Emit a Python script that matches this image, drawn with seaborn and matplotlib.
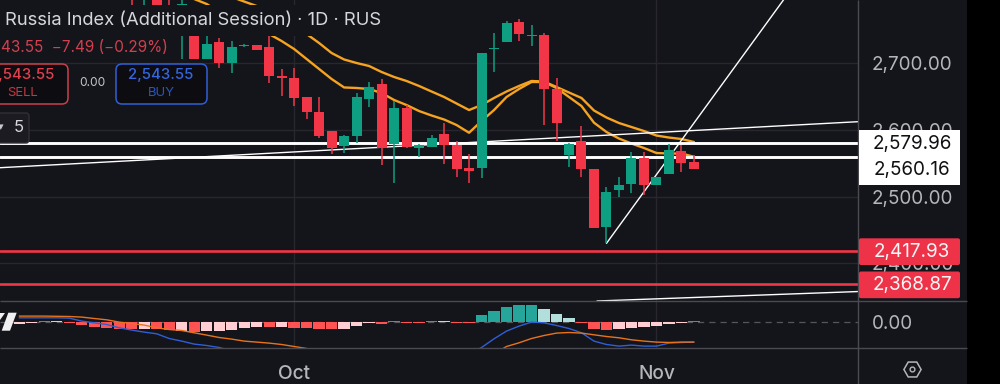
import numpy as np
import pandas as pd
import matplotlib
matplotlib.use("Agg")
import matplotlib.pyplot as plt
from matplotlib.patches import Rectangle, FancyBboxPatch, RegularPolygon, Circle, Polygon
import seaborn as sns

# ---------- data ----------
first_day = -4
opens = [2815,2805,2830,2830,2760,2745,2707.2,2731.8,2700.3,2726.2,2728.2,2724.3,2681.2,2678.2,2649.2,2627.6,2598.2,2576.1,2591.1,2646.2,2668.7,2579.1,2633.1,2572.6,2574.1,2594.1,2578.0,2543.5,2542.6,2721.3,2732.2,2762.7,2741.7,2743.2,2661.7,2562.1,2583.6,2542.0,2454.0,2510.0,2519.5,2558.1,2517.5,2534.0,2568.6,2551.6]
highs = [2825,2820,2840,2840,2795,2745,2741.0,2738.2,2734.2,2728.5,2728.2,2741.2,2691.2,2692.7,2650.1,2649.2,2598.6,2592.6,2655.7,2672.6,2676.7,2643.6,2637.6,2579.1,2592.1,2611.1,2584.0,2564.1,2716.2,2745.7,2764.2,2766.3,2757.3,2745.3,2677.7,2581.0,2606.1,2542.0,2515.0,2530.0,2567.1,2567.6,2530.0,2578.6,2577.6,2562.6]
lows = [2788,2788,2788,2788,2706.7,2707.2,2707.2,2693.2,2685.2,2725.2,2720.2,2671.1,2651.2,2636.1,2617.1,2587.6,2564.1,2566.0,2580.6,2635.1,2547.5,2521.0,2573.1,2560.0,2574.1,2549.0,2530.0,2521.0,2528.5,2687.6,2732.2,2734.2,2726.7,2607.6,2584.0,2545.0,2530.0,2453.4,2430.0,2500.0,2506.0,2502.5,2517.5,2534.0,2537.0,2541.1]
closes = [2805,2815,2788,2810,2790,2707.2,2729.2,2700.3,2724.3,2727.3,2720.2,2681.2,2678.2,2648.6,2627.6,2590.6,2573.5,2591.1,2650.1,2665.1,2572.6,2633.1,2574.1,2577.6,2588.5,2577.6,2541.1,2538.1,2716.2,2722.2,2761.2,2744.2,2742.7,2661.7,2610.2,2579.1,2542.0,2453.4,2507.0,2517.5,2557.6,2517.5,2530.0,2570.5,2550.1,2542.0]

ma_fast_start = 1
ma_fast = [2796.8,2789.3,2777.3,2768.3,2760.8,2751.8,2744.2,2733.7,2721.7,2706.7,2691.7,2676.7,2664.0,2663.2,2661.7,2655.7,2645.2,2637.6,2628.6,2621.9,2615.9,2607.6,2596.0,2613.6,2630.1,2649.7,2661.7,2672.2,2672.2,2663.2,2649.7,2636.1,2611.1,2597.1,2587.3,2579.8,2573.1,2565.6,2564.8,2564.8,2560.0]
ma_slow_start = 4
ma_slow = [2799.8,2793.0,2786.3,2778.8,2769.8,2760.8,2744.2,2730.7,2715.7,2706.0,2700.7,2696.2,2687.2,2679.7,2673.7,2666.2,2657.9,2649.7,2639.9,2630.1,2637.6,2648.2,2657.9,2666.2,2673.7,2672.9,2664.7,2656.4,2648.2,2629.4,2618.9,2610.6,2604.6,2598.6,2591.8,2588.8,2586.6,2582.1]

white_levels = [2579.96, 2560.16]
red_levels = [2417.93, 2368.87]
trend_up = ([34, 50], [2430.0, 2842.7])
trend_long = ([-14.54, 54.13], [2543.5, 2612.6])
trend_low = ([33.24, 54.13], [2343.4, 2357.6])

hist_start = -13
hist_vals = [-2.5,-1.5,0.5,0.6,-1,-3.5,-5.5,-6,-7.5,-7.5,-7,-7.5,-8.5,-9,-10,-9.5,-9,-8,-6.5,-5.5,-5.5,-5,-6,-6,-7,-7.5,-7,-4,-1.5,-2,0.5,-1,-1,0.7,1.2,-0.8,-1,6.5,10.5,15,16.5,16.5,12.5,8,4,-1.5,-7,-8,-7.5,-6,-5.5,-4,-2,-1,0.5]
hist_kind = list("ppTtRRRRRRpRRpRpppppRpRRRRpppRTRRTtRRTTTTTtttRRRppppppT")
macd_left_start = -13
macd_left = [4,4,4,4,3.7,0.7,-1,-2.7,-6,-8.3,-10.3,-12,-16.7,-19.3,-22.3,-23.7,-25.7,-29]
macd_right_start = 23
macd_right = [-32,-25.7,-17,-9.3,-4.3,-0.3,-1,-3.7,-6.7,-11,-19.3,-22.7,-24.3,-23.3,-24.3,-24.3,-21.3,-20.7,-20.3]
signal_left_start = -13
signal_left = [5.7,5.7,5.7,5.5,5.3,4.7,3.3,2,-0.3,-1.7,-3.3,-6,-7.7,-8.7,-11,-13.3,-15.7,-17.3,-19.3,-20.3,-21.3,-22.7,-24.7,-26.7]
signal_right_start = 25
signal_right = [-32,-24.7,-21,-16.7,-13.7,-11.3,-10.7,-11.3,-13,-14.7,-16,-18,-19.3,-20.3,-20.7,-20.3,-20.3]

price_ticks = [2700, 2600, 2500, 2400]
time_ticks = [9, 38]
time_labels = ["Oct", "Nov"]
TITLE = "Russia Index (Additional Session) \u00b7 1D \u00b7 RUS"
QUOTE = "43.55  \u22127.49 (\u22120.29%)"

# ---------- style ----------
BG = "#14141b"; GRID = "#27272d"; SEP = "#4a4a50"; LABEL = "#b4b6bc"
GREEN = "#0e9f82"; RED = "#f23648"; ORANGE = "#f5a320"; WHITE = "#ffffff"
HIST = {"T": "#26a69a", "t": "#b2dfdb", "R": "#ff5252", "p": "#ffcdd2"}
AXIS_FS = 13.6
sns.set_style("dark")
plt.rcParams["font.family"] = ["Inter", "DejaVu Sans"]

fig = plt.figure(figsize=(10, 3.84), dpi=100, facecolor="black")
fig.add_artist(Rectangle((0, 0), .967, 1, transform=fig.transFigure, fc=BG, ec="none", zorder=-5))
ax = fig.add_axes([0, 83/384, .858, 301/384], facecolor="none", zorder=1)
ax2 = fig.add_axes([0, 36/384, .858, 47/384], facecolor="none", zorder=1)
ov = fig.add_axes([0, 0, 1, 1], facecolor="none", zorder=5)
XL = (-14.54, 54.13)

# ---------- main pane ----------
days = np.arange(first_day, first_day + len(opens))
opens_a, closes_a = np.array(opens), np.array(closes)
cols = [GREEN if c >= o else RED for o, c in zip(opens_a, closes_a)]
ax.vlines(days, lows, highs, colors=cols, lw=1.1, zorder=5)
ax.bar(days, np.maximum(np.abs(closes_a - opens_a), 1.2), bottom=np.minimum(opens_a, closes_a), width=0.8,
       color=cols, edgecolor="none", linewidth=0, zorder=5.2)

for start, vals in ((ma_fast_start, ma_fast), (ma_slow_start, ma_slow)):
    d = pd.DataFrame({"day": np.arange(start, start + len(vals)), "price": vals})
    sns.lineplot(data=d, x="day", y="price", color=ORANGE, lw=1.7, ax=ax, zorder=3.5, legend=False, errorbar=None)
for xs, ys in (trend_up, trend_long, trend_low):
    sns.lineplot(x=xs, y=ys, color=WHITE, lw=1.0, ax=ax, zorder=3.6, errorbar=None)
for v in white_levels:
    ax.axhline(v, color=WHITE, lw=2.1, zorder=4)
for v in red_levels:
    ax.axhline(v, color=RED, lw=1.9, zorder=4)

ax.set_xlim(XL); ax.set_ylim(2343.4, 2795.3)
ax.yaxis.tick_right()
ax.set_yticks(price_ticks, [f"{p:,.2f}" for p in price_ticks])
ax.set_xticks(time_ticks, ["", ""])
ax.tick_params(axis="y", length=0, pad=9.8, labelsize=AXIS_FS, labelcolor=LABEL)
ax.tick_params(axis="x", length=0)
ax.grid(True, color=GRID, lw=1, zorder=0); ax.set_axisbelow(True)
ax.set_xlabel(""); ax.set_ylabel("")
for s in ax.spines.values(): s.set_visible(False)

# ---------- MACD pane ----------
hd = pd.DataFrame({"day": np.arange(hist_start, hist_start + len(hist_vals)), "v": hist_vals, "kind": hist_kind})
sns.barplot(data=hd, x="day", y="v", hue="kind", palette=HIST, dodge=False, native_scale=True, width=0.9,
            saturation=1, legend=False, errorbar=None, ax=ax2, zorder=3, linewidth=0, edgecolor="none")
for start, vals, c in ((macd_left_start, macd_left, "#2f5fd6"), (macd_right_start, macd_right, "#2f5fd6"),
                       (signal_left_start, signal_left, "#e8731c"), (signal_right_start, signal_right, "#e8731c")):
    sns.lineplot(x=np.arange(start, start + len(vals)), y=vals, color=c, lw=1.0, ax=ax2, zorder=4, errorbar=None)
ax2.axhline(0, color="#55565a", lw=0.9, dashes=(5, 4), zorder=1)
ax2.set_xlim(XL); ax2.set_ylim(-26.2, 20.8)
ax2.yaxis.tick_right()
ax2.set_yticks([0], ["0.00"])
ax2.set_xticks(time_ticks, time_labels)
ax2.tick_params(axis="y", length=0, pad=9.8, labelsize=AXIS_FS, labelcolor=LABEL)
ax2.tick_params(axis="x", length=0, pad=12.5, labelsize=13.8, labelcolor=LABEL)
for t in ax2.get_xticklabels(): t.set_fontweight("medium")
ax2.xaxis.grid(True, color=GRID, lw=1, zorder=0); ax2.yaxis.grid(False); ax2.set_axisbelow(True)
ax2.set_xlabel(""); ax2.set_ylabel("")
for s in ax2.spines.values(): s.set_visible(False)

# ---------- overlay in pixel space ----------
ov.set_xlim(0, 1000); ov.set_ylim(384, 0); ov.axis("off")
ov.add_patch(Rectangle((0, 5), 386, 31, fc=BG, ec="none", zorder=1))
ov.hlines([301, 348], 0, 967, color=SEP, lw=1, zorder=2)
ov.vlines(858.3, 0, 384, color=SEP, lw=1, zorder=2)

ov.text(5, 20.5, TITLE, color="#d6d7dc", fontsize=13.25, va="center", ha="left", zorder=3)
ov.text(1, 48, QUOTE, color="#d2404e", fontsize=11.0, va="center", ha="left", zorder=3)
ov.add_patch(FancyBboxPatch((-20, 64), 88, 40, boxstyle="round,pad=0,rounding_size=6", fc="#0d0d11", ec="#c9404c", lw=1.1, zorder=3))
ov.add_patch(FancyBboxPatch((116, 64), 91, 40, boxstyle="round,pad=0,rounding_size=6", fc="#0d0d11", ec="#2f5fd6", lw=1.1, zorder=3))
ov.text(22, 75.5, "2,543.55", color="#e0404e", fontsize=10.8, fontweight="medium", ha="center", va="center", zorder=4)
ov.text(22, 92.5, "SELL", color="#c23a46", fontsize=9.4, ha="center", va="center", zorder=4)
ov.text(161, 75.5, "2,543.55", color="#3565e0", fontsize=10.8, fontweight="medium", ha="center", va="center", zorder=4)
ov.text(161, 92.5, "BUY", color="#2c55bb", fontsize=9.4, ha="center", va="center", zorder=4)
ov.text(92, 83.5, "0.00", color="#c4c5ca", fontsize=8.6, ha="center", va="center", zorder=4)
ov.add_patch(FancyBboxPatch((-20, 113), 49, 30, boxstyle="round,pad=0,rounding_size=3", fc="#1b1b21", ec="#303036", lw=1, zorder=3))
ov.text(1, 127, "\u25be", color="#c8c9ce", fontsize=8, ha="center", va="center", zorder=4, family=["DejaVu Sans"])
ov.text(18.5, 128, "5", color="#d6d7dc", fontsize=12, ha="center", va="center", zorder=4)

ov.add_patch(Polygon([(1.7, 330.7), (10, 330.7), (16.7, 312.7), (8.3, 312.7)], fc="#f0f0f2", ec="none", zorder=3))
ov.add_patch(Polygon([(0, 313), (5, 313), (0, 320)], fc="#f0f0f2", ec="none", zorder=3))

for y0, h, label, ty in ((130, 27, "2,579.96", 143.5), (157, 28, "2,560.16", 170.5)):
    ov.add_patch(Rectangle((859, y0), 101, h, fc=WHITE, ec="none", zorder=3))
    ov.text(912, ty, label, color="#111114", fontsize=AXIS_FS, ha="center", va="center", zorder=4)
for y0, label in ((238.3, "2,417.93"), (271.5, "2,368.87")):
    ov.add_patch(FancyBboxPatch((859, y0), 101, 26.7, boxstyle="round,pad=0,rounding_size=2", fc="#ee3349", ec="none", zorder=3))
    ov.text(912, y0 + 13.2, label, color="#f6f6f6", fontsize=AXIS_FS, ha="center", va="center", zorder=4)

ov.add_patch(RegularPolygon((912.5, 369.5), 6, radius=8.6, orientation=np.pi/6, fc="none", ec=LABEL, lw=1.1, zorder=3))
ov.add_patch(Circle((912.5, 369.5), 2.4, fc="none", ec=LABEL, lw=1.0, zorder=3))

fig.savefig("out.png", dpi=100, facecolor=fig.get_facecolor())
